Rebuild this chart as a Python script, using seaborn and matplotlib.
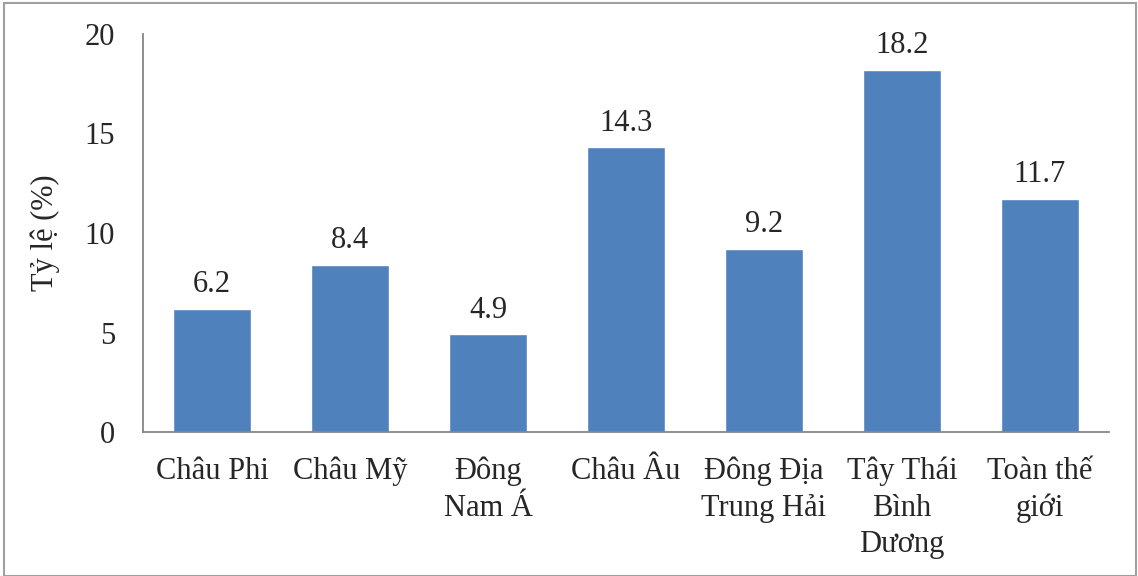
import matplotlib
matplotlib.use("Agg")
import matplotlib.pyplot as plt
import seaborn as sns
import pandas as pd
from matplotlib.patches import Rectangle

categories = ["Châu Phi", "Châu Mỹ", "Đông\nNam Á", "Châu Âu", "Đông Địa\nTrung Hải",
              "Tây Thái\nBình\nDương", "Toàn thế\ngiới"]
values = [6.2, 8.4, 4.9, 14.3, 9.2, 18.2, 11.7]
yticks = [0, 5, 10, 15, 20]
ylabel = "Tỷ lệ (%)"

sns.set_style("white")
plt.rcParams['font.family'] = ['Liberation Serif', 'DejaVu Serif']
FS = 22

fig = plt.figure(figsize=(11.38, 5.76), dpi=100)
ax = fig.add_axes([143/1138, 1-432/576, (1109-143)/1138, (432-34)/576])

df = pd.DataFrame({"cat": categories, "val": values})
sns.barplot(data=df, x="cat", y="val", color="#4F81BD", saturation=1, width=0.57, ax=ax)

for p, v in zip(ax.patches, values):
    ax.annotate(f"{v}", (p.get_x() + p.get_width()/2, p.get_height()),
                xytext=(0, 7), textcoords="offset points", ha="center", va="bottom",
                fontsize=FS)

ax.set_xlim(-0.5, len(categories) - 0.5)
ax.set_ylim(0, 20)
ax.set_yticks(yticks)
ax.set_yticklabels([str(t) for t in yticks], fontsize=FS)
ax.tick_params(axis='y', length=0, pad=20)
ax.tick_params(axis='x', length=0, pad=18, labelsize=FS)
for lbl in ax.get_xticklabels():
    lbl.set_linespacing(1.33)
ax.set_xlabel("")
ax.set_ylabel(ylabel, fontsize=FS, labelpad=18)

for s in ["top", "right"]:
    ax.spines[s].set_visible(False)
for s in ["left", "bottom"]:
    ax.spines[s].set_color("#868686")
    ax.spines[s].set_linewidth(1.3)

fig.patches.append(Rectangle((4/1138, 0.5/576), (1136-4)/1138, (574-1)/576, transform=fig.transFigure,
                             fill=False, edgecolor="#A0A0A0", linewidth=1.5))

fig.savefig("out.png", dpi=100)
